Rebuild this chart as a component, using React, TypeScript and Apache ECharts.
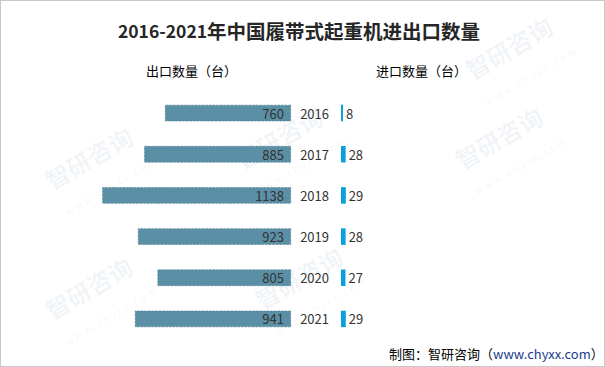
import React, { useEffect, useRef } from "react";
import * as echarts from "echarts";

const years = ["2016", "2017", "2018", "2019", "2020", "2021"];
const exportValues = [760, 885, 1138, 923, 805, 941];
const importValues = [8, 28, 29, 28, 27, 29];
const exportLabel = "出口数量（台）";
const importLabel = "进口数量（台）";

export default function App() {
  const ref = useRef<HTMLDivElement>(null);
  useEffect(() => {
    if (!ref.current) return;
    const chart = echarts.init(ref.current, null, { renderer: "svg" });
    const font = "'Noto Sans CJK SC', 'Noto Sans', sans-serif";
    const wm: any[] = [];
    const wmPos = [
      [40, 170], [230, 150], [450, 150], [40, 300], [250, 290], [460, 60],
    ];
    wmPos.forEach(([x, y]) => {
      wm.push({
        type: "text",
        x, y,
        rotation: Math.PI / 6,
        silent: true,
        z: -1,
        style: {
          text: "智研咨询",
          font: `bold 24px ${font}`,
          fill: "rgba(110,140,180,0.09)",
        },
      });
      wm.push({
        type: "text",
        x: x + 22, y: y + 36,
        rotation: Math.PI / 6,
        silent: true,
        z: -1,
        style: {
          text: "w w w . c h y x x . c o m",
          font: `10px ${font}`,
          fill: "rgba(110,140,180,0.09)",
        },
      });
    });
    chart.setOption({
      animation: false,
      backgroundColor: "#ffffff",
      title: {
        text: "{a|2016-2021}{b|年中国履带式起重机进出口数量}",
        left: 293,
        textAlign: "center",
        top: 15,
        textStyle: {
          rich: {
            a: { fontFamily: font, fontWeight: "bold", fontSize: 17.5, color: "#262626" },
            b: { fontFamily: font, fontWeight: "bold", fontSize: 19.5, color: "#262626" },
          },
        },
      },
      graphic: [
        ...wm,
        {
          type: "text", left: 145, top: 63,
          style: { text: exportLabel, font: `13px ${font}`, fill: "#000" },
        },
        {
          type: "text", left: 375, top: 63,
          style: { text: importLabel, font: `13px ${font}`, fill: "#000" },
        },
        {
          type: "text", left: 388, top: 346,
          style: {
            text: "{a|制图：智研咨询（}{b|www.chyxx.com}{a|）}",
            rich: {
              a: { fontFamily: font, fontSize: 13, fill: "#000" } as any,
              b: { fontFamily: font, fontSize: 13, fill: "#1a3c8c" } as any,
            },
          },
        },
      ],
      grid: [
        { left: 91, width: 199, top: 91.5, height: 247 },
        { left: 340, width: 199, top: 91.5, height: 247 },
      ],
      xAxis: [
        { gridIndex: 0, type: "value", inverse: true, min: 0, max: 1200, show: false },
        { gridIndex: 1, type: "value", min: 0, max: 1200, show: false },
      ],
      yAxis: [
        {
          gridIndex: 0, type: "category", data: years, inverse: true, show: false,
        },
        {
          gridIndex: 1, type: "category", data: years, inverse: true,
          axisLine: { show: false }, axisTick: { show: false },
          axisLabel: { margin: 12, fontSize: 13, color: "#333", fontFamily: font },
        },
      ],
      series: [
        {
          type: "bar",
          xAxisIndex: 0, yAxisIndex: 0,
          data: exportValues,
          barWidth: 16.5,
          itemStyle: { color: "#5b8fa5", borderColor: "#4d7d92", borderType: "dashed", borderWidth: 0.6 },
          label: {
            show: true, position: "insideRight", distance: 7,
            color: "#333", fontSize: 13, fontFamily: font,
          },
        },
        {
          type: "bar",
          xAxisIndex: 1, yAxisIndex: 1,
          data: importValues,
          barWidth: 16.5,
          barMinHeight: 2,
          itemStyle: { color: "#0aa0dc" },
          label: {
            show: true, position: "right", distance: 3,
            color: "#333", fontSize: 13, fontFamily: font,
          },
        },
      ],
    });
    return () => chart.dispose();
  }, []);
  return (
    <div
      ref={ref}
      style={{
        position: "absolute", left: 0, top: 0, width: 605, height: 367,
        boxSizing: "border-box", border: "1px solid #c8c8c8",
      }}
    />
  );
}
